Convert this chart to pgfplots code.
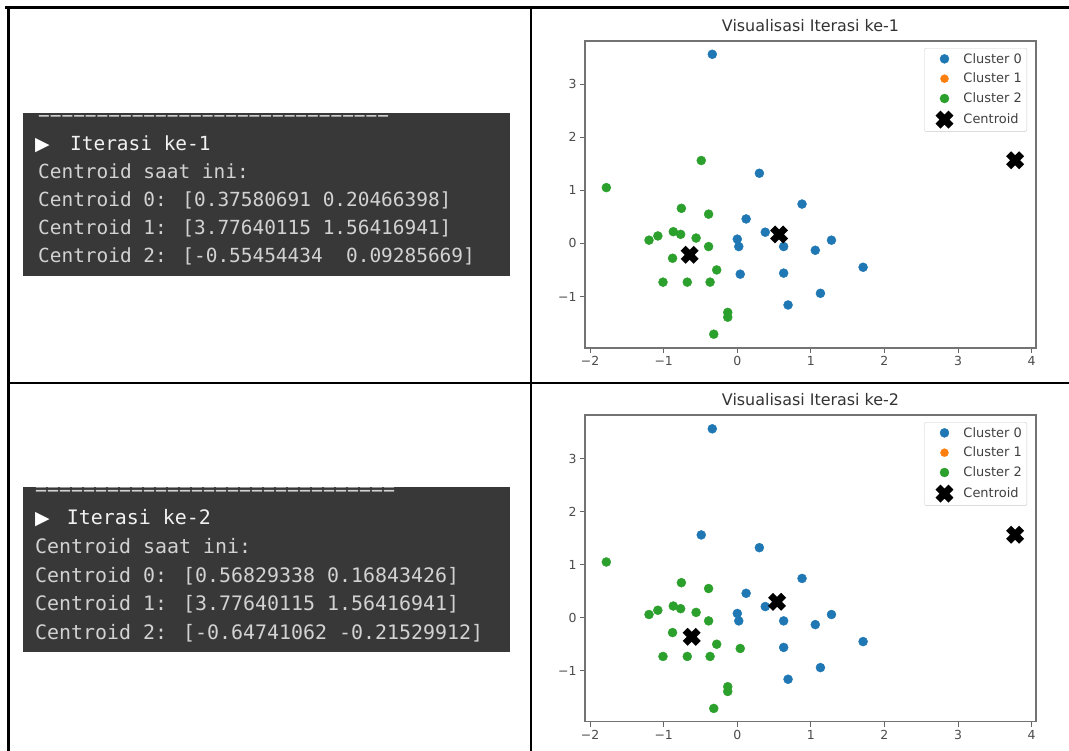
\documentclass[border=0pt]{standalone}
\usepackage{fontspec}
\setmainfont{DejaVu Sans}
\newfontfamily\mono{DejaVu Sans Mono}
\usepackage{pgfplots}
\pgfplotsset{compat=1.18}
\definecolor{c0}{HTML}{1F77B4}
\definecolor{c1}{HTML}{FF7F0E}
\definecolor{c2}{HTML}{2CA02C}
\definecolor{term}{HTML}{383838}
\definecolor{termtext}{HTML}{D2D2D2}

\pgfdeclareplotmark{fatx}{%
  \pgfpathmoveto{\pgfpoint{-0.4384\pgfplotmarksize}{0.9758\pgfplotmarksize}}%
  \pgfpathlineto{\pgfpoint{0pt}{0.5374\pgfplotmarksize}}%
  \pgfpathlineto{\pgfpoint{0.4384\pgfplotmarksize}{0.9758\pgfplotmarksize}}%
  \pgfpathlineto{\pgfpoint{0.9758\pgfplotmarksize}{0.4384\pgfplotmarksize}}%
  \pgfpathlineto{\pgfpoint{0.5374\pgfplotmarksize}{0pt}}%
  \pgfpathlineto{\pgfpoint{0.9758\pgfplotmarksize}{-0.4384\pgfplotmarksize}}%
  \pgfpathlineto{\pgfpoint{0.4384\pgfplotmarksize}{-0.9758\pgfplotmarksize}}%
  \pgfpathlineto{\pgfpoint{0pt}{-0.5374\pgfplotmarksize}}%
  \pgfpathlineto{\pgfpoint{-0.4384\pgfplotmarksize}{-0.9758\pgfplotmarksize}}%
  \pgfpathlineto{\pgfpoint{-0.9758\pgfplotmarksize}{-0.4384\pgfplotmarksize}}%
  \pgfpathlineto{\pgfpoint{-0.5374\pgfplotmarksize}{0pt}}%
  \pgfpathlineto{\pgfpoint{-0.9758\pgfplotmarksize}{0.4384\pgfplotmarksize}}%
  \pgfpathclose
  \pgfusepathqfill
}

\pgfplotsset{
  ptleg/.style={legend image code/.code={\path[draw=none,fill=none] (0bp,-1bp) rectangle (34bp,1bp);\draw[##1,only marks] plot coordinates {(17bp,0bp)};}},
  kmstyle/.style={
    scale only axis, width=451bp, height=307bp,
    xmin=-2.07, xmax=4.06, ymin=-1.97, ymax=3.81,
    xtick={-2,-1,0,1,2,3,4}, xticklabels={−2,−1,0,1,2,3,4},
    ytick={-1,0,1,2,3}, yticklabels={−1,0,1,2,3},
    tick align=outside, tick pos=left, major tick length=5bp,
    axis line style={black!55, line width=1.1bp},
    tick style={black!60, line width=0.9bp},
    tick label style={font=\fontsize{12.5}{14}\selectfont, text=black!70},
    every axis title/.style={at={(0.5,1)}, anchor=south, inner sep=0pt, yshift=9.5bp,
      font=\fontsize{16}{19}\selectfont, text=black!80},
    legend style={at={(1,1)}, anchor=north east, xshift=-9bp, yshift=-7bp,
      draw=black!20, fill=white, rounded corners=2bp,
      font=\fontsize{13}{15}\selectfont, nodes={text=black!75},
      row sep=4.5bp, inner xsep=3bp, inner ysep=3bp},
    legend cell align=left,
  }
}

\begin{document}
\begin{tikzpicture}
\fill[white] (0bp,0bp) rectangle (1069bp,-751bp);
\path[use as bounding box] (0bp,0bp) rectangle (1069bp,-751bp);

% ---------- terminal box 1
\fill[term] (22.7bp,-113bp) rectangle (510bp,-276bp);
\begin{scope}
\clip (22.7bp,-113bp) rectangle (510bp,-276bp);
\node[anchor=base west, inner sep=0pt, text=termtext, font=\mono\fontsize{19.5}{22}\selectfont] at (38bp,-120bp) {==============================};
\end{scope}
\begin{scope}[every node/.style={anchor=base west, inner sep=0pt, text=termtext, font=\mono\fontsize{19.5}{22}\selectfont}]
\node[text=white, font=\fontsize{19}{22}\selectfont] at (35bp,-150bp) {▶};
\node[text=black!5] at (70bp,-150bp) {Iterasi ke-1};
\node at (38bp,-178bp) {Centroid saat ini:};
\node at (38bp,-206bp) {Centroid 0: [0.37580691 0.20466398]};
\node at (38bp,-234bp) {Centroid 1: [3.77640115 1.56416941]};
\node at (38bp,-262bp) {Centroid 2: [-0.55454434\ \ 0.09285669]};
\end{scope}

% ---------- terminal box 2
\fill[term] (22.7bp,-487bp) rectangle (510bp,-652bp);
\begin{scope}
\clip (22.7bp,-487bp) rectangle (510bp,-652bp);
\node[anchor=base west, inner sep=0pt, text=termtext, font=\mono\fontsize{20}{22}\selectfont] at (35bp,-495.5bp) {==============================};
\end{scope}
\begin{scope}[every node/.style={anchor=base west, inner sep=0pt, text=termtext, font=\mono\fontsize{20}{22}\selectfont}]
\node[text=white, font=\fontsize{19}{22}\selectfont] at (35bp,-524bp) {▶};
\node[text=black!5] at (66.7bp,-524bp) {Iterasi ke-2};
\node at (35bp,-553bp) {Centroid saat ini:};
\node at (35bp,-582bp) {Centroid 0: [0.56829338 0.16843426]};
\node at (35bp,-610.5bp) {Centroid 1: [3.77640115 1.56416941]};
\node at (35bp,-639bp) {Centroid 2: [-0.64741062 -0.21529912]};
\end{scope}

% ---------- plot 1
\begin{axis}[kmstyle, at={(585bp,-348bp)}, anchor=south west,
  title={Visualisasi Iterasi ke-1}]
\addplot[only marks, ptleg, mark=*, mark size=4.5bp, color=c0] coordinates {
(-0.34,3.56) (0.30,1.32) (0.88,0.74) (0.12,0.46) (0.38,0.21) (0.00,0.08)
(0.02,-0.06) (0.63,-0.06) (1.28,0.06) (1.06,-0.13) (1.71,-0.45) (0.04,-0.58)
(0.63,-0.56) (1.13,-0.94) (0.69,-1.16)};
\addlegendentry{Cluster 0}
\addlegendimage{only marks, ptleg, mark=*, mark size=4bp, color=c1}
\addlegendentry{Cluster 1}
\addplot[only marks, ptleg, mark=*, mark size=4.5bp, color=c2] coordinates {
(-0.49,1.56) (-1.78,1.05) (-0.76,0.66) (-0.39,0.55) (-0.87,0.22) (-0.77,0.17)
(-1.08,0.14) (-1.20,0.06) (-0.56,0.10) (-0.39,-0.06) (-0.88,-0.28) (-0.28,-0.50)
(-1.01,-0.73) (-0.68,-0.73) (-0.37,-0.73) (-0.13,-1.30) (-0.13,-1.39) (-0.32,-1.71)};
\addlegendentry{Cluster 2}
\addplot[only marks, ptleg, mark=fatx, mark size=9.2bp, color=black] coordinates {
(0.56829338,0.16843426) (3.77640115,1.56416941) (-0.64741062,-0.21529912)};
\addlegendentry{Centroid}
\end{axis}

% ---------- plot 2
\begin{axis}[kmstyle, at={(585bp,-721.7bp)}, anchor=south west,
  ymin=-1.96, ymax=3.82, height=306.7bp,
  title={Visualisasi Iterasi ke-2}]
\addplot[only marks, ptleg, mark=*, mark size=4.5bp, color=c0] coordinates {
(-0.34,3.56) (-0.49,1.56) (0.30,1.32) (0.88,0.74) (0.12,0.46) (0.38,0.21) (0.00,0.08)
(0.02,-0.06) (0.63,-0.06) (1.28,0.06) (1.06,-0.13) (1.71,-0.45)
(0.63,-0.56) (1.13,-0.94) (0.69,-1.16)};
\addlegendentry{Cluster 0}
\addlegendimage{only marks, ptleg, mark=*, mark size=4bp, color=c1}
\addlegendentry{Cluster 1}
\addplot[only marks, ptleg, mark=*, mark size=4.5bp, color=c2] coordinates {
(-1.78,1.05) (-0.76,0.66) (-0.39,0.55) (-0.87,0.22) (-0.77,0.17)
(-1.08,0.14) (-1.20,0.06) (-0.56,0.10) (-0.39,-0.06) (-0.88,-0.28) (-0.28,-0.50)
(0.04,-0.58) (-1.01,-0.73) (-0.68,-0.73) (-0.37,-0.73) (-0.13,-1.30) (-0.13,-1.39) (-0.32,-1.71)};
\addlegendentry{Cluster 2}
\addplot[only marks, ptleg, mark=fatx, mark size=9.2bp, color=black] coordinates {
(0.54,0.30) (3.77640115,1.56416941) (-0.62,-0.36)};
\addlegendentry{Centroid}
\end{axis}

% ---------- table rules
\draw[line width=2.5bp] (5bp,-7.5bp) -- (1069bp,-7.5bp);
\draw[line width=3bp] (8.7bp,-6bp) -- (8.7bp,-751bp);
\draw[line width=2bp] (531bp,-7.5bp) -- (531bp,-751bp);
\draw[line width=2.5bp] (8.7bp,-383bp) -- (1069bp,-383bp);
\end{tikzpicture}
\end{document}
